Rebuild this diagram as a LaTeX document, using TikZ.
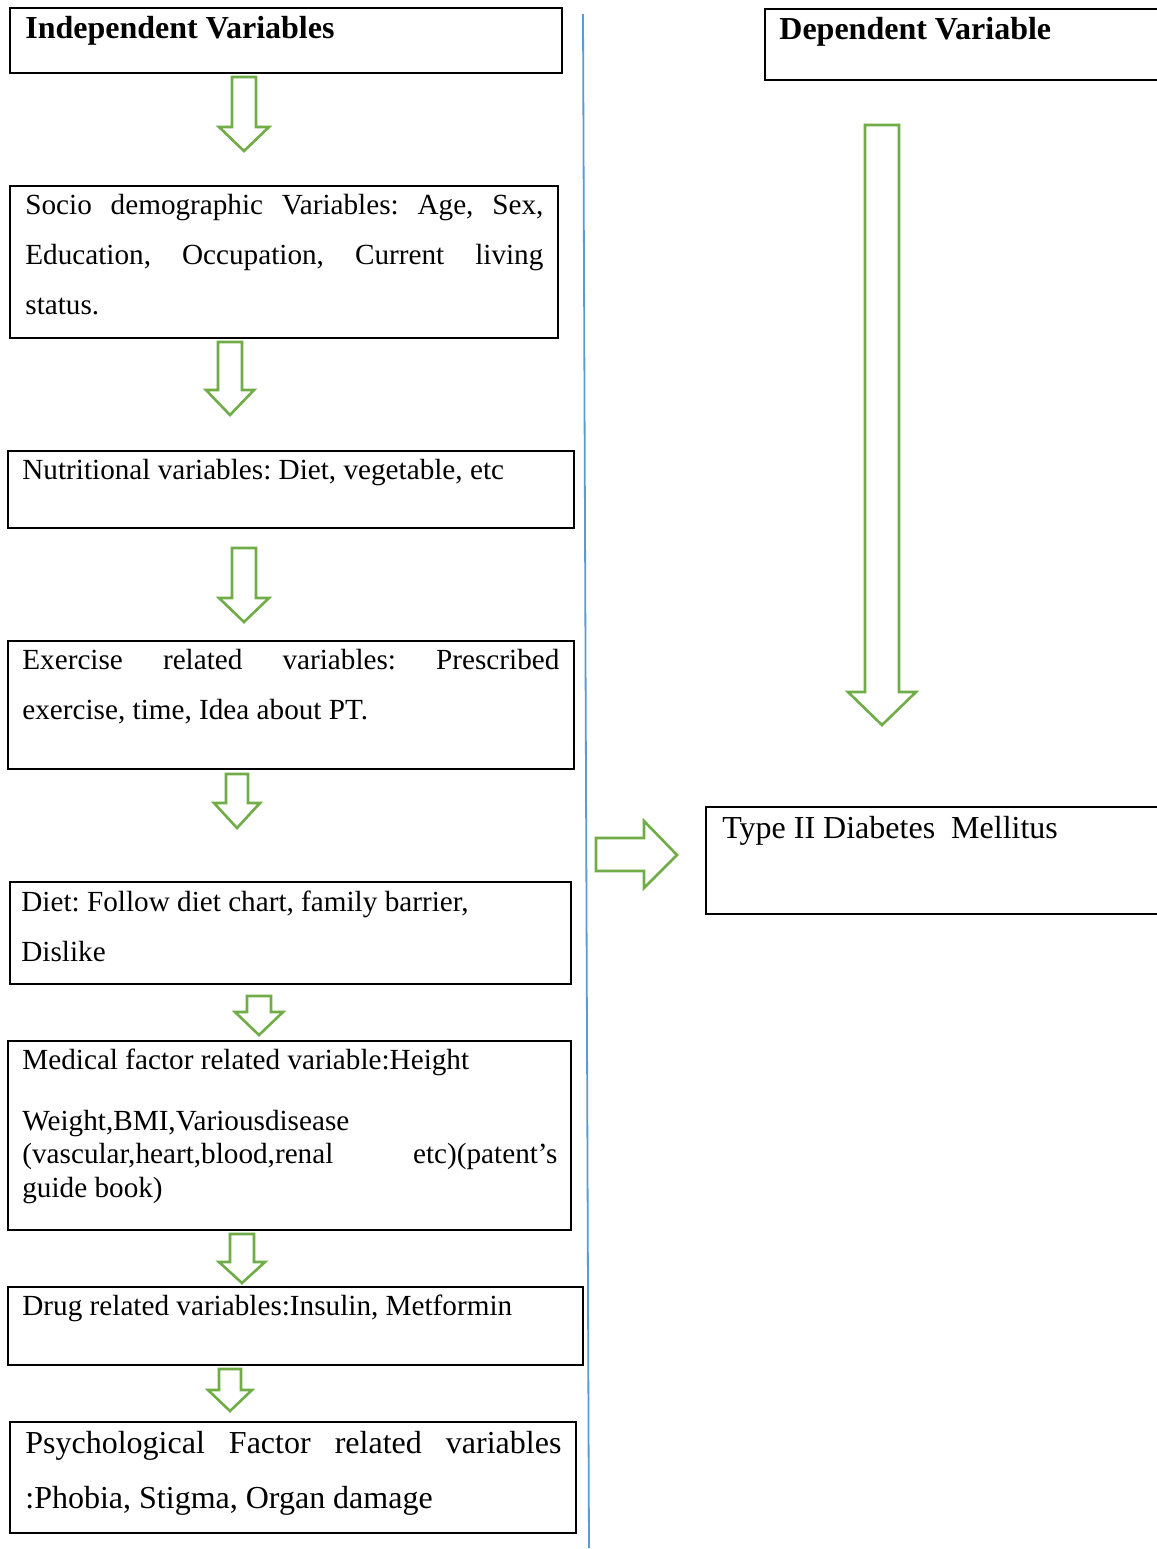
\documentclass[tikz,border=0pt]{standalone}
\usepackage{fontspec}
\setmainfont{Liberation Serif}
\usetikzlibrary{fit}
\frenchspacing
\definecolor{agreen}{HTML}{70AD47}
\definecolor{ablue}{HTML}{5B9BD5}
\newcommand{\dnarrow}[6]{%
  \draw[garrow] ({#1-#5},#2) -- ({#1+#5},#2) -- ({#1+#5},#3) -- ({#1+#6},#3) -- (#1,#4) -- ({#1-#6},#3) -- ({#1-#5},#3) -- cycle;}
\tikzset{
  box/.style={draw, line width=1.25pt, inner sep=0pt},
  txt/.style={inner sep=0pt, anchor=base west, font=\fontsize{14.6}{25}\selectfont},
  bigtxt/.style={inner sep=0pt, anchor=base west, font=\fontsize{16}{27.5}\selectfont},
  head/.style={inner sep=0pt, anchor=base west, font=\fontsize{16}{19}\selectfont\bfseries},
  garrow/.style={draw=agreen, line width=1.3pt, line join=miter},
  divider/.style={draw=ablue, line width=0.9pt}
}
\begin{document}
\begin{tikzpicture}[x=0.5pt,y=-0.5pt]
\useasboundingbox (0,0) rectangle (1157,1549);
\clip (0,0) rectangle (1157,1549);
\fill[white] (0,0) rectangle (1157,1549);
% boxes
\node[box, fit={(10,8) (562,73)}] (b1) {};
\node[box, fit={(765,9) (1175,80)}] (bd) {};
\node[box, fit={(10,186) (558,338)}] (b2) {};
\node[box, fit={(8,451) (574,528)}] (b3) {};
\node[box, fit={(8,641) (574,769)}] (b4) {};
\node[box, fit={(10,882) (571,984)}] (b5) {};
\node[box, fit={(8,1041) (571,1230)}] (b6) {};
\node[box, fit={(8,1287) (583,1365)}] (b7) {};
\node[box, fit={(10,1422) (576,1533)}] (b8) {};
\node[box, fit={(706,807) (1175,914)}] (bt) {};
% texts
\node[head] (t1) at (25,38) {Independent Variables};
\node[head] (td) at (779,39) {Dependent Variable};
\node[txt] (t2) at (25,214) {\parbox[t]{259pt}{\makebox[259pt][s]{Socio demographic Variables: Age, Sex,}\\\makebox[259pt][s]{Education, Occupation, Current living}\\status.}};
\node[txt] (t3) at (22,479) {Nutritional variables: Diet, vegetable, etc};
\node[txt] (t4) at (22,669) {\parbox[t]{268.5pt}{\makebox[268.5pt][s]{Exercise related variables: Prescribed}\\exercise, time, Idea about PT.}};
\node[txt] (t5) at (21,911) {\parbox[t]{280pt}{Diet: Follow diet chart, family barrier,\\Dislike}};
\node[txt] (t6a) at (22,1069) {Medical factor related variable:Height};
\node[txt, font=\fontsize{14.6}{16.8}\selectfont] (t6b) at (22,1130) {\parbox[t]{267.5pt}{Weight,BMI,Variousdisease\\\makebox[267.5pt][s]{(vascular,heart,blood,renal etc)(patent’s}\\guide book)}};
\node[txt] (t7) at (22,1315) {Drug related variables:Insulin, Metformin};
\node[bigtxt] (t8) at (25,1453) {\parbox[t]{268pt}{\makebox[268pt][s]{Psychological Factor related variables}\\:Phobia, Stigma, Organ damage}};
\node[bigtxt] (tt) at (722,838) {Type II Diabetes\ \ Mellitus};
% arrows
\dnarrow{244}{77}{127}{151}{12}{25}
\dnarrow{230}{342}{390}{415}{12}{24}
\dnarrow{244}{548}{598}{622}{12}{25}
\dnarrow{237}{774}{803}{828}{11}{23}
\dnarrow{259}{996}{1012}{1035}{12}{24}
\dnarrow{242}{1234}{1262}{1283}{12}{23}
\dnarrow{230}{1369}{1390}{1411}{11}{22}
\dnarrow{882}{125}{692}{725}{17}{34}
\draw[garrow] (596,838) -- (644,838) -- (644,821) -- (677,855) -- (644,888) -- (644,871) -- (596,871) -- cycle;
% divider
\coordinate (dtop) at (583,14);
\coordinate (dbot) at (589,1548);
\draw[divider] (dtop) -- (dbot);
\end{tikzpicture}
\end{document}
